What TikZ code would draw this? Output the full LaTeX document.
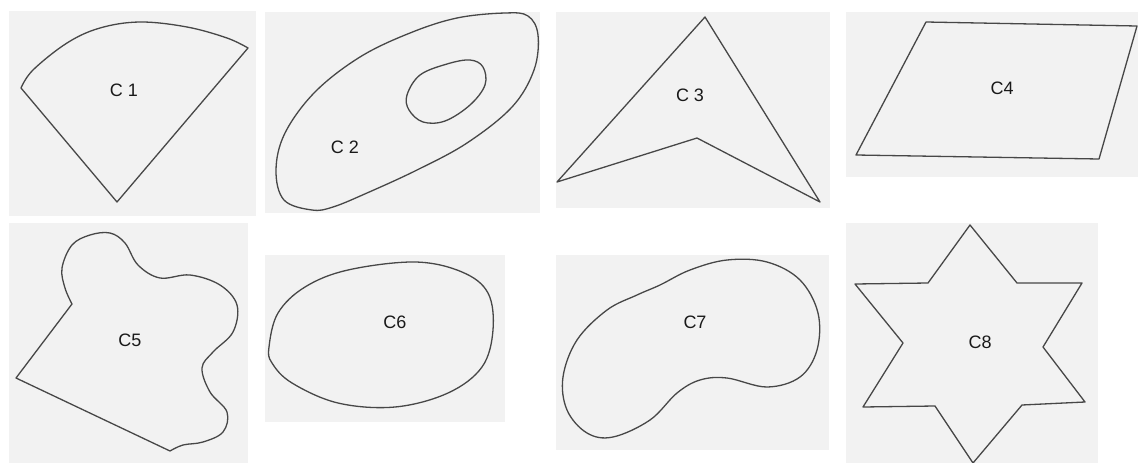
\documentclass[tikz,border=0pt]{standalone}
\usepackage{fontspec}
\setmainfont{Liberation Sans}
\begin{document}
\begin{tikzpicture}[x=1pt,y=-1pt,
  panel/.style={fill=black!5},
  outline/.style={draw=black!72,line width=1.3pt,line join=round},
  lbl/.style={font=\fontsize{18}{18}\selectfont,text=black!90,inner sep=0pt}]
\useasboundingbox (0,0) rectangle (1138,463);
\fill[white] (0,0) rectangle (1138,463);
% panels
\fill[panel] (9,11) rectangle (256,216);
\fill[panel] (265,12) rectangle (540,213);
\fill[panel] (556,12) rectangle (830,208);
\fill[panel] (846,12) rectangle (1138,177);
\fill[panel] (9,223) rectangle (248,463);
\fill[panel] (265,255) rectangle (505,422);
\fill[panel] (556,255) rectangle (829,450);
\fill[panel] (846,223) rectangle (1098,463);
% C1
\draw[outline] plot[smooth,tension=0.6] coordinates {(21,88) (33,70) (67,43) (100,28) (140,22) (187,27) (227,38) (248,48)} -- (117,202) -- cycle;
\node[lbl] (c1) at (124,90) {C 1};
% C2
\draw[outline] plot[smooth cycle,tension=0.6] coordinates {(312,210) (284,200) (276,170) (285,133) (315,92) (360,57) (410,33) (457,18) (505,13) (528,16) (538,35) (534,70) (512,107) (467,143) (417,170) (367,193) (333,207)};
\draw[outline] plot[smooth cycle,tension=0.6] coordinates {(407,95) (420,75) (447,64) (470,60) (483,67) (485,85) (470,105) (445,121) (423,122) (409,110)};
\node[lbl] (c2) at (345,147) {C 2};
% C3
\draw[outline] (705,17) -- (820,202) -- (697,138) -- (557,182) -- cycle;
\node[lbl] (c3) at (690,95) {C 3};
% C4
\draw[outline] (926,22) -- (1137,26) -- (1099,159) -- (856,155) -- cycle;
\node[lbl] (c4) at (1002,88) {C4};
% C5
\draw[outline] (16,378) -- plot[smooth,tension=0.6] coordinates {(72,304) (65,288) (62,268) (72,245) (90,235) (110,233) (125,243) (138,265) (160,278) (190,275) (220,285) (237,305) (233,332) (213,352) (202,368) (210,392) (227,412) (223,432) (203,442) (183,445) (170,451)} -- cycle;
\node[lbl] (c5) at (130,340) {C5};
% C6
\draw[outline] plot[smooth cycle,tension=0.6] coordinates {(269,347) (278,313) (305,287) (348,270) (415,262) (462,272) (488,293) (493,330) (482,367) (448,393) (395,407) (338,403) (292,383) (272,363)};
\node[lbl] (c6) at (395,322) {C6};
% C7
\draw[outline] plot[smooth cycle,tension=0.6] coordinates {(660,285) (690,270) (727,260) (767,262) (800,280) (818,313) (817,350) (800,377) (767,387) (727,378) (700,380) (677,393) (650,420) (613,437) (587,433) (567,410) (563,377) (577,340) (607,310) (637,295)};
\node[lbl] (c7) at (695,322) {C7};
% C8
\draw[outline] (970,225) -- (1017,283) -- (1082,283) -- (1043,347) -- (1085,402) -- (1022,405) -- (973,463) -- (935,406) -- (863,407) -- (903,343) -- (855,284) -- (928,283) -- cycle;
\node[lbl] (c8) at (980,342) {C8};
\end{tikzpicture}
\end{document}
